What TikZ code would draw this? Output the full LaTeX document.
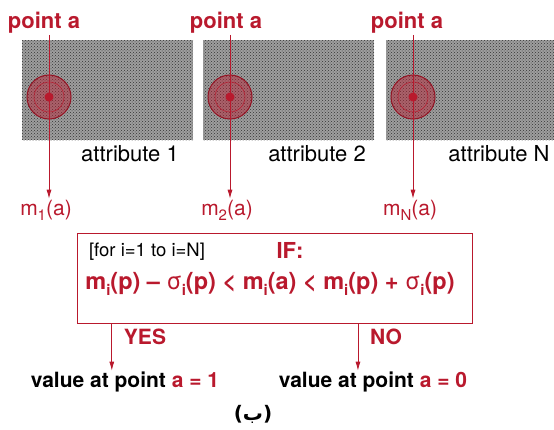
\documentclass[tikz,border=0pt]{standalone}
\usepackage{fontspec}
\setmainfont{TeX Gyre Heros}
\newfontfamily\arabicfont[Script=Arabic]{DejaVu Sans}
\TeXXeTstate=1
\usetikzlibrary{arrows.meta,patterns}
\definecolor{crim}{RGB}{185,25,45}
\newcommand{\sbs}[1]{\raisebox{-0.45ex}{\fontsize{15}{15}\selectfont #1}}
\tikzset{
  redlbl/.style={text=crim, font=\fontsize{21}{24}\selectfont\bfseries, inner sep=1pt},
  blklbl/.style={font=\fontsize{21}{24}\selectfont, inner sep=1pt},
  arr/.style={crim, line width=0.8pt, -{Latex[length=9pt,width=5pt]}},
  layer/.style={fill=black!38, postaction={pattern=crosshatch dots, pattern color=black!80}}
}
\begin{document}
\begin{tikzpicture}[x=1pt,y=-1pt]
  \useasboundingbox (0,0) rectangle (554,429);
  % Attribute layers
  \foreach \i/\xa/\xb/\dx/\lx/\mx/\ax/\nm in
    {1/22/193/49/44/46/130/1, 2/203/374/230/226/227/317/2, 3/386/554/413/407/410/499/N}
  {
    \fill[layer] (\xa,40) rectangle (\xb,140);
    \coordinate (dot\i) at (\dx,97);
    \fill[crim, opacity=.45] (dot\i) circle (22);
    \draw[crim!80!black, line width=1pt] (dot\i) circle (22);
    \draw[crim, line width=0.5pt] (dot\i) circle (15);
    \fill[crim] (dot\i) circle (4.5);
    \node[redlbl, font=\fontsize{22}{24}\selectfont\bfseries] (pa\i) at (\lx,23) {point a};
    \node[blklbl, font=\fontsize{22}{24}\selectfont] (att\i) at (\ax,154) {attribute \nm};
    \node[blklbl, text=crim] (m\i) at (\mx,210) {m\sbs{\nm}(a)};
    \draw[arr] (pa\i.south -| dot\i) -- (m\i.north -| dot\i);
  }
  % Decision box
  \node[draw=crim, line width=0.8pt, minimum width=395, minimum height=90] (ifbox) at (274.5,278) {};
  \node[font=\fontsize{18.5}{20}\selectfont, inner sep=1pt] (loop) at (147,252) {[for i=1 to i=N]};
  \node[redlbl, font=\fontsize{22}{26}\selectfont\bfseries] (iflbl) at (290,250) {IF:};
  \node[redlbl, font=\fontsize{23.5}{26}\selectfont\bfseries] (cond) at (270,284)
    {m\sbs{i}(p) – {\mdseries σ}\sbs{i}(p) < m\sbs{i}(a) < m\sbs{i}(p) + {\mdseries σ}\sbs{i}(p)};
  % Outcomes
  \node[redlbl] (yes) at (145,337) {YES};
  \node[redlbl] (no) at (386,337) {NO};
  \node[blklbl, font=\fontsize{21}{24}\selectfont\bfseries] (val1) at (125,382)
    {value at point \textcolor{crim}{a = 1}};
  \node[blklbl, font=\fontsize{21}{24}\selectfont\bfseries] (val0) at (373,382)
    {value at point \textcolor{crim}{a = 0}};
  \draw[arr] ([xshift=-11]yes.west |- ifbox.south) -- ([xshift=-11]yes.west |- val1.north);
  \draw[arr] ([xshift=-11]no.west |- ifbox.south) -- ([xshift=-11]no.west |- val0.north);
  \node[font=\fontsize{20}{22}\selectfont\bfseries\arabicfont, inner sep=1pt] (cap) at (253,414)
    {\beginR(ب)\endR};
\end{tikzpicture}
\end{document}
